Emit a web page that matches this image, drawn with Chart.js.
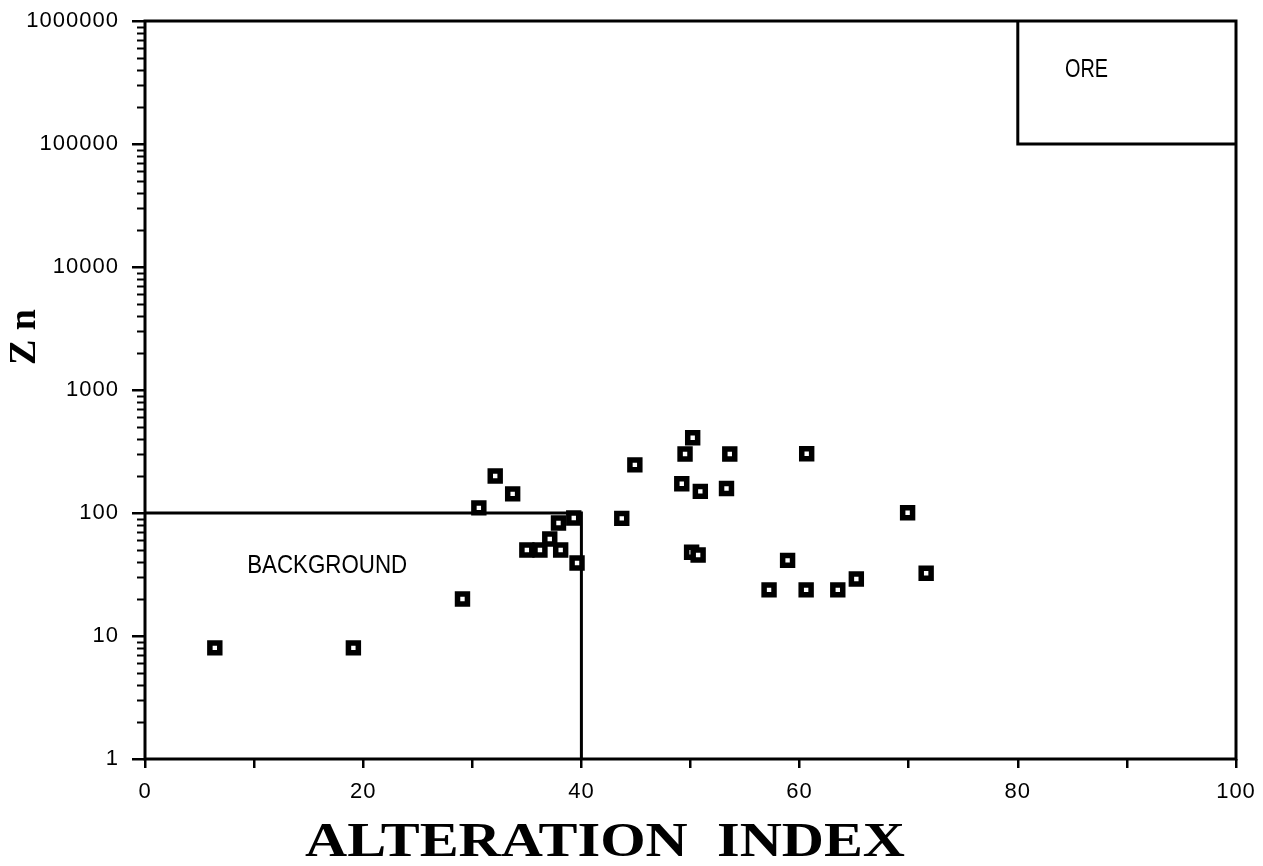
<!DOCTYPE html>
<html>
<head>
<meta charset="utf-8">
<script src="https://cdn.jsdelivr.net/npm/chart.js@4/dist/chart.umd.min.js"></script>
<style>
html,body{margin:0;padding:0;background:#fff;}
#wrap{width:1263px;height:866px;}
</style>
</head>
<body>
<div id="wrap"><canvas id="c" width="1263" height="866"></canvas></div>
<script>
// ---- data ----
const alterationIndex = [6.4, 19.1, 29.1, 30.6, 32.1, 33.7, 35.0, 36.2, 37.1, 37.9, 38.1, 39.3, 39.6,
  43.7, 44.9, 49.2, 49.5, 50.1, 50.2, 50.7, 50.9, 53.3, 53.6, 57.2, 58.9, 60.6, 60.65, 63.5, 65.2, 69.9, 71.6];
const znValues = [8.0, 8.0, 20, 110, 200, 143, 50, 50, 61.5, 83, 50, 91, 39.2,
  90.5, 246, 173, 302, 47.9, 409, 45.6, 150, 158, 302, 23.7, 41.2, 23.7, 303, 23.7, 29.1, 100.5, 32.4];

const backgroundBoxX = [0, 40, 40];
const backgroundBoxY = [100, 100, 1];
const oreBoxX = [80, 80, 100];
const oreBoxY = [1000000, 100000, 100000];

const xTickValues = [0, 10, 20, 30, 40, 50, 60, 70, 80, 90, 100];
const xTickLabels = ['0', '', '20', '', '40', '', '60', '', '80', '', '100'];
const yTickValues = [1, 10, 100, 1000, 10000, 100000, 1000000];
const yTickLabels = ['1', '10', '100', '1000', '10000', '100000', '1000000'];

const regionLabels = ['BACKGROUND', 'ORE'];
const regionLabelX = [16.7, 86.3];
const regionLabelY = [37, 400000];
const regionLabelWidth = [160, 43];

const xTitle = 'ALTERATION  INDEX';
const yTitle = 'Z n';

const points = alterationIndex.map((x, i) => ({x: x, y: znValues[i]}));
const bgBox = backgroundBoxX.map((x, i) => ({x: x, y: backgroundBoxY[i]}));
const oreBox = oreBoxX.map((x, i) => ({x: x, y: oreBoxY[i]}));

function drawFitted(ctx, text, x, y, width) {
  const w = ctx.measureText(text).width;
  ctx.save();
  ctx.translate(x, y);
  ctx.scale(width / w, 1);
  ctx.fillText(text, 0, 0);
  ctx.restore();
}

const decorPlugin = {
  id: 'decor',
  beforeDraw(chart) {
    chart.ctx.letterSpacing = '1px';
  },
  beforeDatasetsDraw(chart) {
    const ctx = chart.ctx;
    const a = chart.chartArea;
    const ys = chart.scales.y;
    ctx.save();
    ctx.strokeStyle = '#000';
    ctx.lineWidth = 2;
    for (let d = 0; d < 6; d++) {
      for (let m = 2; m <= 9; m++) {
        const v = m * Math.pow(10, d);
        const py = Math.round(ys.getPixelForValue(v)) + 0.5;
        ctx.beginPath();
        ctx.moveTo(a.left - 8, py);
        ctx.lineTo(a.left, py);
        ctx.stroke();
      }
    }
    ctx.lineWidth = 3;
    ctx.strokeRect(a.left, a.top, a.right - a.left, a.bottom - a.top);
    ctx.restore();
  },
  afterDraw(chart) {
    const ctx = chart.ctx;
    const xs = chart.scales.x, ys = chart.scales.y;
    ctx.save();
    ctx.letterSpacing = '0px';
    ctx.fillStyle = '#000';
    ctx.font = '25px "Liberation Sans", Arial, sans-serif';
    ctx.textBaseline = 'middle';
    ctx.textAlign = 'center';
    regionLabels.forEach((t, i) => {
      drawFitted(ctx, t, xs.getPixelForValue(regionLabelX[i]), ys.getPixelForValue(regionLabelY[i]), regionLabelWidth[i]);
    });
    ctx.font = 'bold 49px "Liberation Serif", "Times New Roman", serif';
    drawFitted(ctx, xTitle, 605, 843, 600);
    ctx.save();
    ctx.translate(25, 337);
    ctx.rotate(-Math.PI / 2);
    ctx.font = 'bold 38px "Liberation Serif", "Times New Roman", serif';
    ctx.fillText(yTitle, 0, 0);
    ctx.restore();
    ctx.restore();
  }
};

new Chart(document.getElementById('c'), {
  type: 'scatter',
  data: {
    datasets: [
      {
        label: 'Zn',
        data: points,
        pointStyle: 'rect',
        pointRadius: 7,
        pointHoverRadius: 7,
        pointBorderWidth: 5.5,
        pointBackgroundColor: '#fff',
        pointBorderColor: '#000',
        showLine: false,
        order: 0
      },
      {
        label: 'Background',
        data: bgBox,
        showLine: true,
        borderColor: '#000',
        borderWidth: 3,
        pointRadius: 0,
        fill: false,
        tension: 0,
        order: 1
      },
      {
        label: 'Ore',
        data: oreBox,
        showLine: true,
        borderColor: '#000',
        borderWidth: 3,
        pointRadius: 0,
        fill: false,
        tension: 0,
        order: 1
      }
    ]
  },
  options: {
    responsive: false,
    animation: false,
    devicePixelRatio: 1,
    layout: {padding: {left: 0, top: 21, right: 27, bottom: 0}},
    plugins: {legend: {display: false}, tooltip: {enabled: false}},
    scales: {
      x: {
        type: 'linear',
        min: 0, max: 100,
        afterBuildTicks(scale) { scale.ticks = xTickValues.map(v => ({value: v})); },
        afterFit(scale) { scale.height = 107; scale.paddingLeft = 0; scale.paddingRight = 0; },
        border: {display: false},
        grid: {display: true, drawOnChartArea: false, drawTicks: true, tickLength: 9, color: '#000', lineWidth: 2.5},
        ticks: {
          autoSkip: false, maxRotation: 0, padding: 11, color: '#000',
          font: {family: '"Liberation Sans", Arial, sans-serif', size: 22},
          callback: (v) => xTickLabels[xTickValues.indexOf(v)] ?? ''
        }
      },
      y: {
        type: 'logarithmic',
        min: 1, max: 1000000,
        afterBuildTicks(scale) { scale.ticks = yTickValues.map(v => ({value: v})); },
        afterFit(scale) { scale.width = 145; scale.paddingTop = 0; scale.paddingBottom = 0; },
        border: {display: false},
        grid: {display: true, drawOnChartArea: false, drawTicks: true, tickLength: 13, color: '#000', lineWidth: 2.5},
        ticks: {
          autoSkip: false, padding: 13, color: '#000',
          font: {family: '"Liberation Sans", Arial, sans-serif', size: 22},
          callback: (v) => yTickLabels[yTickValues.indexOf(v)] ?? ''
        }
      }
    }
  },
  plugins: [decorPlugin]
});
</script>
</body>
</html>
